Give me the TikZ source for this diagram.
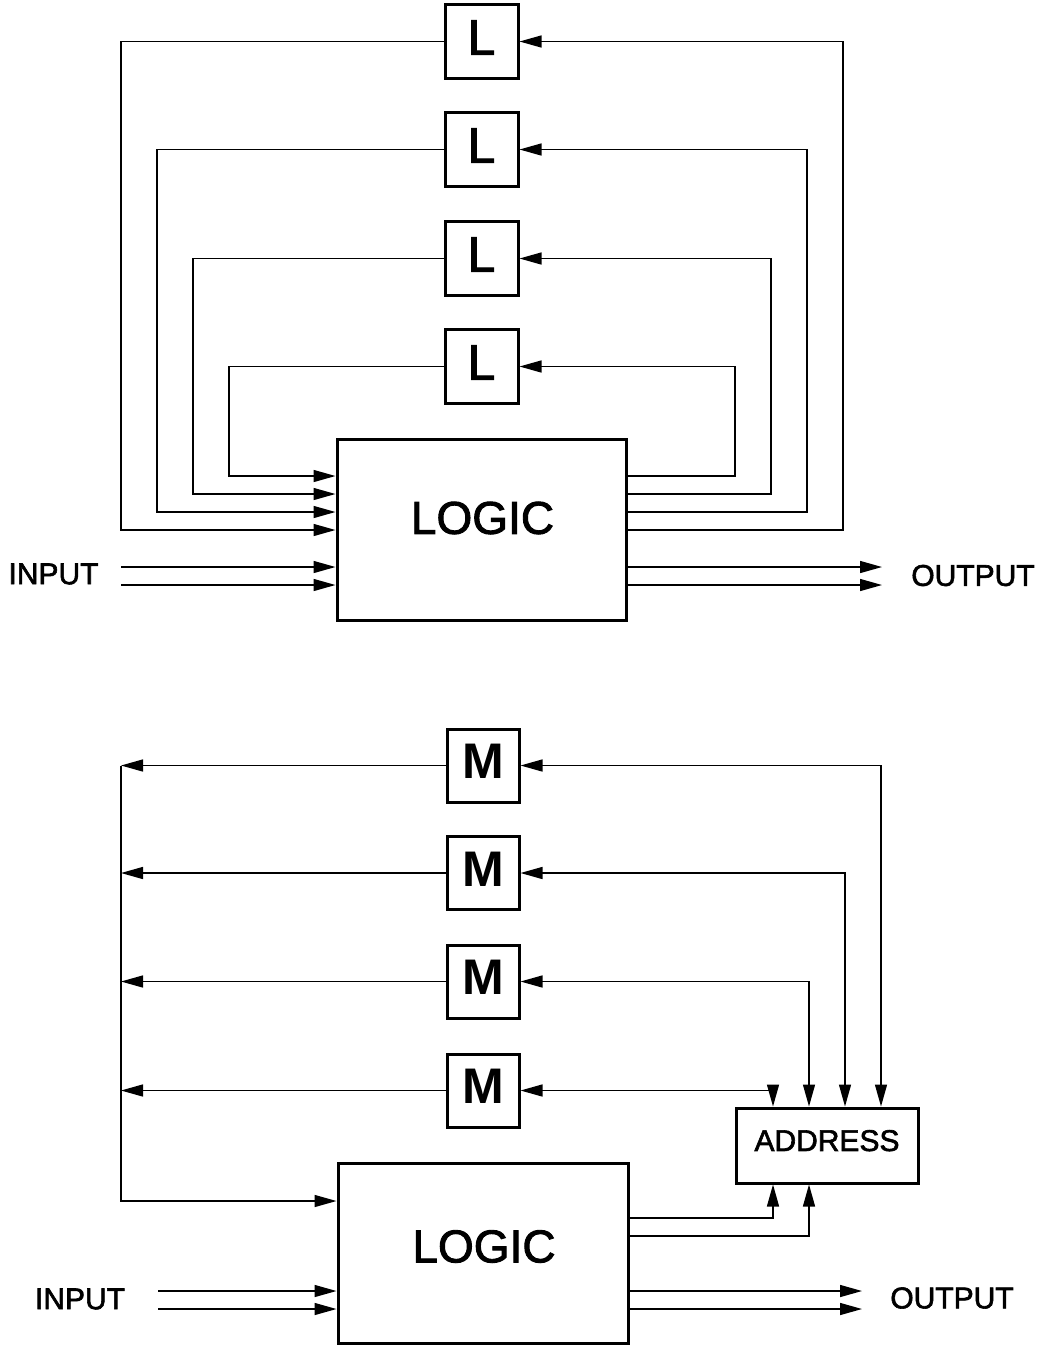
\documentclass[tikz,border=0pt]{standalone}
\usepackage{fontspec}
\setmainfont{Liberation Sans}
\newfontfamily\medsans{Liberation Sans}[FakeBold=2]
\usetikzlibrary{arrows.meta}
\begin{document}
\begin{tikzpicture}[x=1pt,y=-1pt,
  wire/.style={line width=1.4pt},
  arr/.style={wire,-{Triangle[length=22pt,width=12pt]}},
  darr/.style={wire,{Triangle[length=22pt,width=12pt]}-{Triangle[length=22pt,width=12pt]}},
  box/.style={draw,line width=3pt,rectangle,inner sep=0pt},
  sbox/.style={box,minimum width=73pt,minimum height=74pt,font=\fontsize{50}{50}\selectfont\medsans,text depth=8pt},
  mbox/.style={box,minimum width=72pt,minimum height=73pt,font=\fontsize{50}{50}\selectfont\bfseries,text depth=8pt},
  lbl/.style={inner sep=0pt,font=\fontsize{30}{30}\selectfont\medsans},
  big/.style={inner sep=0pt,font=\fontsize{46}{46}\selectfont\medsans}]
\useasboundingbox (0,0) rectangle (1040,1345);

% ---------- top diagram ----------
\node[sbox] (L1) at (481.5,41.5) {L};
\node[sbox] (L2) at (481.5,149.5) {L};
\node[sbox] (L3) at (481.5,258.5) {L};
\node[sbox] (L4) at (481.5,366.5) {L};
\node[box,minimum width=289pt,minimum height=181pt] (T) at (481.5,529.5) {};
\node[big] (Tt) at (482.5,518) {LOGIC};

\coordinate (ty1) at (0,530);
\coordinate (ty2) at (0,512);
\coordinate (ty3) at (0,494);
\coordinate (ty4) at (0,476);
\coordinate (lx1) at (121,0);
\coordinate (lx2) at (157,0);
\coordinate (lx3) at (193,0);
\coordinate (lx4) at (229,0);
\coordinate (rx1) at (843,0);
\coordinate (rx2) at (807,0);
\coordinate (rx3) at (771,0);
\coordinate (rx4) at (735,0);

\foreach \i in {1,...,4} {
  \draw[arr] (L\i.west) -| (lx\i |- ty\i) -- (T.west |- ty\i);
  \draw[arr] (T.east |- ty\i) -| (rx\i |- L\i.east) -- (L\i.east);
}

\coordinate (in1) at (121,567);
\coordinate (in2) at (121,585);
\coordinate (out1) at (882,567);
\coordinate (out2) at (882,585);
\draw[arr] (in1) -- (T.west |- in1);
\draw[arr] (in2) -- (T.west |- in2);
\draw[arr] (T.east |- out1) -- (out1);
\draw[arr] (T.east |- out2) -- (out2);
\node[lbl] (inp1) at (53.5,574) {INPUT};
\node[lbl] (outp1) at (973,575.5) {OUTPUT};

% ---------- bottom diagram ----------
\node[mbox] (M1) at (483,765.5) {M};
\node[mbox] (M2) at (483,873) {M};
\node[mbox] (M3) at (483,981.5) {M};
\node[mbox] (M4) at (483,1090.5) {M};
\node[box,minimum width=290pt,minimum height=180pt] (B) at (483,1253) {};
\node[big] (Bt) at (484,1246.5) {LOGIC};
\node[box,minimum width=182pt,minimum height=75pt,font=\fontsize{30}{30}\selectfont\medsans,text depth=10pt] (A) at (827,1145.5) {ADDRESS};

\coordinate (ax1) at (881,0);
\coordinate (ax2) at (845,0);
\coordinate (ax3) at (809,0);
\coordinate (ax4) at (773,0);
\coordinate (bx) at (121,0);
\coordinate (ya) at (0,1201);

\foreach \i in {1,...,4} {
  \draw[darr] (M\i.east) -| (ax\i |- A.north);
  \draw[arr] (M\i.west) -- (bx |- M\i.west);
}
\draw[arr] (bx |- M1.west) |- (B.west |- ya);

\coordinate (yb1) at (0,1218);
\coordinate (yb2) at (0,1236);
\draw[arr] (B.east |- yb1) -| (ax4 |- A.south);
\draw[arr] (B.east |- yb2) -| (ax3 |- A.south);

\coordinate (bin1) at (158,1291);
\coordinate (bin2) at (158,1309);
\coordinate (bout1) at (862,1291);
\coordinate (bout2) at (862,1309);
\draw[arr] (bin1) -- (B.west |- bin1);
\draw[arr] (bin2) -- (B.west |- bin2);
\draw[arr] (B.east |- bout1) -- (bout1);
\draw[arr] (B.east |- bout2) -- (bout2);
\node[lbl] (inp2) at (80,1299) {INPUT};
\node[lbl] (outp2) at (952,1298) {OUTPUT};
\end{tikzpicture}
\end{document}
